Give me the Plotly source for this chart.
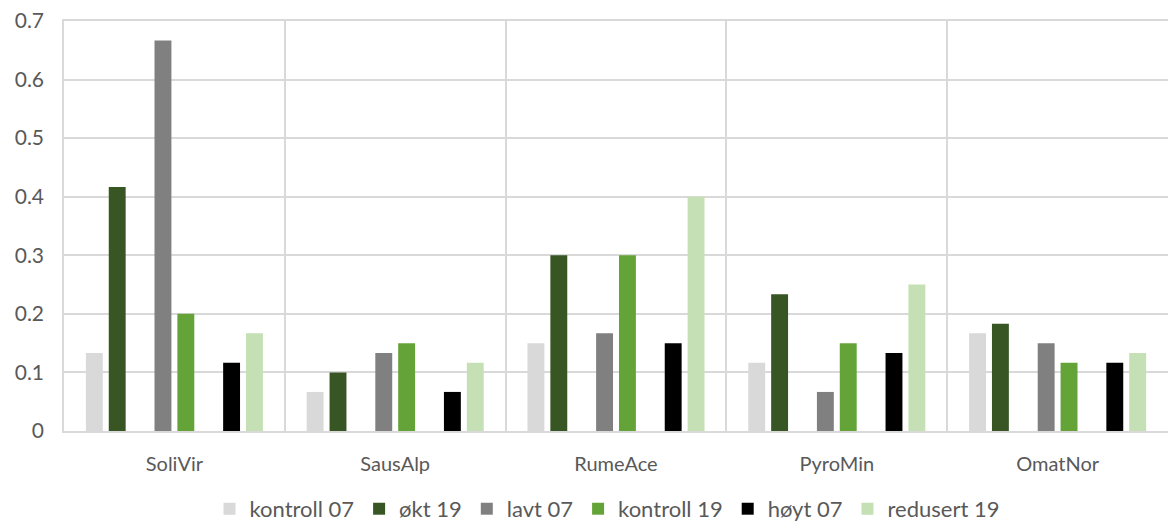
import plotly.graph_objects as go

categories = ["SoliVir", "SausAlp", "RumeAce", "PyroMin", "OmatNor"]

kontroll_07 = [0.1333, 0.0667, 0.15, 0.1167, 0.1667]
okt_19 = [0.4167, 0.1, 0.3, 0.2333, 0.1833]
lavt_07 = [0.6667, 0.1333, 0.1667, 0.0667, 0.15]
kontroll_19 = [0.2, 0.15, 0.3, 0.15, 0.1167]
hoyt_07 = [0.1167, 0.0667, 0.15, 0.1333, 0.1167]
redusert_19 = [0.1667, 0.1167, 0.4, 0.25, 0.1333]

y_ticks = [0, 0.1, 0.2, 0.3, 0.4, 0.5, 0.6, 0.7]
y_tick_labels = ["0", "0.1", "0.2", "0.3", "0.4", "0.5", "0.6", "0.7"]

series = [
    ("kontroll 07", kontroll_07, "#D9D9D9", 0),
    ("økt 19", okt_19, "#375623", 1),
    ("lavt 07", lavt_07, "#808080", 3),
    ("kontroll 19", kontroll_19, "#63A338", 4),
    ("høyt 07", hoyt_07, "#000000", 6),
    ("redusert 19", redusert_19, "#C5E0B4", 7),
]

# layout of bars within a category (category width = 1)
EDGE_GAP = 19 / 222
SLOT = 23 / 222
BAR = 17 / 222
PAD = (SLOT - BAR) / 2

font_family = "Lato, 'Open Sans', sans-serif"
text_color = "#595959"

fig = go.Figure()
for name, vals, color, slot in series:
    fig.add_trace(go.Bar(
        name=name,
        x=categories,
        y=vals,
        marker=dict(color=color, line=dict(width=0)),
        offset=-0.5 + EDGE_GAP + slot * SLOT + PAD,
        width=BAR,
    ))

fig.update_layout(
    width=1168,
    height=524,
    margin=dict(l=64, r=0, t=21, b=93, autoexpand=False),
    paper_bgcolor="white",
    plot_bgcolor="white",
    barmode="overlay",
    font=dict(family=font_family, size=20, color=text_color),
    showlegend=True,
    legend=dict(
        orientation="h",
        x=607 / 1168,
        xref="container",
        xanchor="center",
        y=-0.19,
        yref="paper",
        yanchor="middle",
        font=dict(family=font_family, size=22, color=text_color),
        itemwidth=30,
        traceorder="normal",
        borderwidth=0,
    ),
    xaxis=dict(
        type="category",
        range=[-0.5, 4.5],
        showgrid=True,
        gridcolor="#D9D9D9",
        gridwidth=1.5,
        tickson="boundaries",
        ticks="",
        showline=True,
        linecolor="#D9D9D9",
        linewidth=1.5,
        mirror=True,
        tickfont=dict(family=font_family, size=20, color=text_color),
        ticklabelstandoff=14,
    ),
    yaxis=dict(
        range=[0, 0.7],
        tickvals=y_ticks,
        ticktext=y_tick_labels,
        showgrid=True,
        gridcolor="#D9D9D9",
        gridwidth=1.5,
        zeroline=False,
        showline=True,
        linecolor="#D9D9D9",
        linewidth=1.5,
        mirror=True,
        ticks="",
        tickfont=dict(family=font_family, size=21, color=text_color),
        ticklabelstandoff=14,
    ),
)

fig.write_html("out.html")
